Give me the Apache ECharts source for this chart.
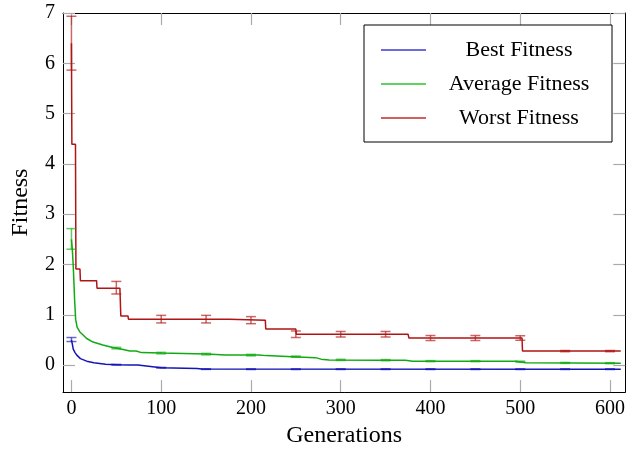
<!DOCTYPE html>
<html>
<head>
<meta charset="utf-8">
<script src="https://cdn.jsdelivr.net/npm/echarts@6/dist/echarts.min.js"></script>
<style>
html,body{margin:0;padding:0;background:#fff;}
#chart{width:628px;height:453px;}
</style>
</head>
<body>
<div id="chart"></div>
<script>
// ---- data ----
const seriesNames = ['Best Fitness', 'Average Fitness', 'Worst Fitness'];

const bestX = [0, 1, 2, 4, 6, 10, 17, 25, 38, 50, 65, 74, 75, 100, 140, 145, 612];
const bestY = [0.5, 0.42, 0.32, 0.25, 0.2, 0.13, 0.08, 0.05, 0.02, 0.01, 0.006, 0.005, -0.026, -0.05, -0.066, -0.078, -0.08];

const avgX = [0, 1, 2, 2.8, 3.5, 4.7, 6.4, 9.4, 13, 17, 24, 35, 46, 55, 65, 72, 78, 100, 150, 172, 209, 217, 246, 272, 278, 287, 343, 372, 380, 495, 506, 612];
const avgY = [2.5, 2.3, 1.97, 1.64, 1.31, 0.91, 0.75, 0.66, 0.6, 0.53, 0.46, 0.40, 0.35, 0.32, 0.28, 0.28, 0.25, 0.24, 0.22, 0.2, 0.2, 0.19, 0.17, 0.15, 0.12, 0.105, 0.1, 0.1, 0.08, 0.08, 0.05, 0.04];

const worstX = [0, 0.5, 4.5, 5, 9.5, 10, 28, 28.5, 54, 55, 63, 63.5, 176, 177, 216, 216.5, 250, 250.5, 375, 376, 502, 502.5, 612];
const worstY = [6.4, 4.39, 4.39, 1.91, 1.91, 1.68, 1.68, 1.53, 1.53, 0.98, 0.98, 0.915, 0.915, 0.895, 0.895, 0.72, 0.72, 0.615, 0.615, 0.54, 0.54, 0.28, 0.28];

const errX = [0, 50, 100, 150, 200, 250, 300, 350, 400, 450, 500, 550, 600];
const bestErrMean = [0.51, 0.01, -0.05, -0.078, -0.08, -0.08, -0.08, -0.08, -0.08, -0.08, -0.08, -0.08, -0.08];
const bestErr = [0.04, 0.006, 0.006, 0.006, 0.006, 0.006, 0.006, 0.006, 0.006, 0.006, 0.006, 0.006, 0.006];
const avgErrMean = [2.51, 0.34, 0.24, 0.22, 0.2, 0.17, 0.105, 0.1, 0.08, 0.08, 0.07, 0.045, 0.04];
const avgErr = [0.205, 0.015, 0.015, 0.015, 0.015, 0.012, 0.012, 0.012, 0.01, 0.01, 0.01, 0.01, 0.01];
const worstErrMean = [6.4, 1.54, 0.915, 0.915, 0.895, 0.615, 0.615, 0.615, 0.54, 0.54, 0.54, 0.28, 0.28];
const worstErr = [0.535, 0.125, 0.075, 0.075, 0.07, 0.065, 0.055, 0.055, 0.05, 0.05, 0.045, 0.012, 0.012];

const xTicks = [0, 100, 200, 300, 400, 500, 600];
const yTicks = [0, 1, 2, 3, 4, 5, 6, 7];

// ---- styling ----
const colors = ['#1515b5', '#12aa12', '#b01515'];
const legendColors = ['#6b6bdc', '#5fd25f', '#d06060'];
const FONT = '"Liberation Serif", "DejaVu Serif", serif';

function pairs(xs, ys) { return xs.map((x, i) => [x, ys[i]]); }
function errData(xs, m, e) { return xs.map((x, i) => [x, m[i], e[i]]); }

function errRenderer(color) {
  return function (params, api) {
    const x = api.value(0), m = api.value(1), e = api.value(2);
    const top = api.coord([x, m + e]);
    const bot = api.coord([x, m - e]);
    const hw = 5;
    const st = { stroke: color, lineWidth: 1.5, opacity: 0.65 };
    return {
      type: 'group',
      children: [
        { type: 'line', shape: { x1: top[0], y1: top[1], x2: bot[0], y2: bot[1] }, style: st },
        { type: 'line', shape: { x1: top[0] - hw, y1: top[1], x2: top[0] + hw, y2: top[1] }, style: st },
        { type: 'line', shape: { x1: bot[0] - hw, y1: bot[1], x2: bot[0] + hw, y2: bot[1] }, style: st }
      ]
    };
  };
}

const tickStyle = { show: true, inside: true, length: 12, lineStyle: { color: '#aaaaaa', width: 1.2 } };
const axisLineStyle = { show: true, onZero: false, lineStyle: { color: '#000', width: 1 } };

const chart = echarts.init(document.getElementById('chart'), null, { renderer: 'canvas' });

const lineSeries = [[bestX, bestY], [avgX, avgY], [worstX, worstY]].map((d, i) => ({
  name: seriesNames[i],
  type: 'line',
  data: pairs(d[0], d[1]),
  symbol: 'none',
  showSymbol: false,
  animation: false,
  color: colors[i],
  lineStyle: { color: colors[i], width: 1.5 },
  itemStyle: { color: colors[i] },
  z: 3
}));

const errSeries = [
  errData(errX, bestErrMean, bestErr),
  errData(errX, avgErrMean, avgErr),
  errData(errX, worstErrMean, worstErr)
].map((d, i) => ({
  name: seriesNames[i] + ' err',
  type: 'custom',
  data: d,
  renderItem: errRenderer(colors[i]),
  encode: { x: 0, y: 1 },
  animation: false,
  silent: true,
  z: 4
}));

const option = {
  animation: false,
  backgroundColor: '#fff',
  textStyle: { fontFamily: FONT },
  grid: { left: 63, right: 1, top: 13, bottom: 60, containLabel: false, show: false },
  legend: {
    show: true,
    orient: 'vertical',
    left: 364,
    top: 25,
    padding: [12, 5, 11, 17],
    itemGap: 8,
    itemWidth: 45,
    itemHeight: 2,
    backgroundColor: '#fff',
    borderColor: '#000',
    borderWidth: 1,
    borderRadius: 0,
    data: seriesNames.map((n, i) => ({ name: n, icon: 'rect', itemStyle: { color: legendColors[i], borderWidth: 0 } })),
    formatter: '{c|{name}}',
    textStyle: {
      fontFamily: FONT,
      fontSize: 22,
      color: '#000',
      rich: { c: { width: 176, height: 26, align: 'center', lineHeight: 26, fontFamily: FONT, fontSize: 22, color: '#000' } }
    },
    selectedMode: false
  },
  xAxis: [
    {
      type: 'value', min: -9.4, max: 617, position: 'bottom',
      name: 'Generations', nameLocation: 'middle', nameGap: 31,
      nameTextStyle: { fontFamily: FONT, fontSize: 24, color: '#000' },
      axisLine: axisLineStyle,
      axisTick: Object.assign({ customValues: xTicks }, tickStyle),
      axisLabel: { customValues: xTicks, fontFamily: FONT, fontSize: 20, color: '#000', margin: 7 },
      splitLine: { show: false }
    },
    {
      type: 'value', min: -9.4, max: 617, position: 'top',
      axisLine: axisLineStyle,
      axisTick: Object.assign({ customValues: xTicks }, tickStyle),
      axisLabel: { show: false },
      splitLine: { show: false }
    }
  ],
  yAxis: [
    {
      type: 'value', min: -0.535, max: 7.0, position: 'left',
      name: 'Fitness', nameLocation: 'middle', nameGap: 30, nameRotate: 90,
      nameTextStyle: { fontFamily: FONT, fontSize: 24, color: '#000' },
      axisLine: axisLineStyle,
      axisTick: Object.assign({ customValues: yTicks }, tickStyle),
      axisLabel: { customValues: yTicks, fontFamily: FONT, fontSize: 20, color: '#000', margin: 8 },
      splitLine: { show: false }
    },
    {
      type: 'value', min: -0.535, max: 7.0, position: 'right',
      axisLine: axisLineStyle,
      axisTick: Object.assign({ customValues: yTicks }, tickStyle),
      axisLabel: { show: false },
      splitLine: { show: false }
    }
  ],
  series: lineSeries.concat(errSeries)
};

chart.setOption(option);
</script>
</body>
</html>
